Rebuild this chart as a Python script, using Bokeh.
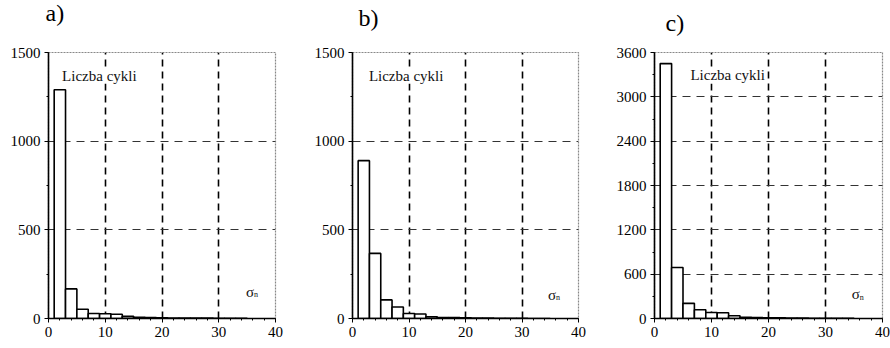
from bokeh.plotting import figure
from bokeh.models import Range1d, SingleIntervalTicker, Label
from bokeh.layouts import row, column
from bokeh.embed import file_html
from bokeh.resources import INLINE

# ---- data ----
bin_left = [1, 3, 5, 7, 9, 11, 13, 15, 17, 19, 21, 23, 25, 27, 29, 31, 33]
bin_width = 2
counts_a = [1290, 167, 52, 28, 27, 24, 12, 7, 5, 4, 3, 3, 2, 2, 1, 1, 1]
counts_b = [890, 367, 105, 65, 28, 25, 10, 5, 5, 4, 2, 2, 1, 1, 1, 0, 0]
counts_c = [3450, 690, 205, 118, 82, 78, 37, 16, 12, 10, 8, 6, 5, 4, 3, 2, 2]
panel_titles = ["a)", "b)", "c)"]
y_max = [1500, 1500, 3600]
y_step = [500, 500, 600]
x_max = 40
x_step = 10
y_label_text = "Liczba cykli"

FONT = "Liberation Serif"
HEAD_H = 40


def make_header(title, width, tx, ty):
    h = figure(width=width, height=HEAD_H, x_range=Range1d(0, width),
               y_range=Range1d(0, HEAD_H), output_backend="svg",
               toolbar_location=None, min_border=0)
    h.axis.visible = False
    h.grid.visible = False
    h.outline_line_color = None
    h.add_layout(Label(x=tx, y=ty, text=title, text_font=FONT,
                       text_font_size="24px", text_baseline="middle",
                       text_color="black"))
    return h


def make_panel(counts, ymax, ystep, width, bl, br, bt, bb, lab_xy, sig_xy):
    p = figure(width=width, height=303, x_range=Range1d(0, x_max),
               y_range=Range1d(0, ymax), output_backend="svg",
               toolbar_location=None, min_border_left=bl, min_border_right=br,
               min_border_top=bt, min_border_bottom=bb)

    lefts = bin_left
    rights = [l + bin_width for l in bin_left]
    p.quad(left=lefts, right=rights, bottom=0, top=counts,
           fill_color="white", line_color="black", line_width=1.6)

    p.xaxis.ticker = SingleIntervalTicker(interval=x_step, num_minor_ticks=5)
    p.yaxis.ticker = SingleIntervalTicker(interval=ystep, num_minor_ticks=2)
    for ax in (p.xaxis[0], p.yaxis[0]):
        ax.axis_line_color = "black"
        ax.axis_line_width = 1.6
        ax.major_tick_line_color = "black"
        ax.minor_tick_line_color = "black"
        ax.major_tick_in = 0
        ax.major_tick_out = 4
        ax.minor_tick_in = 0
        ax.minor_tick_out = 2
        ax.major_label_text_font = FONT
        ax.major_label_text_font_size = "15px"
        ax.major_label_text_color = "black"
        ax.major_label_standoff = 4

    p.xgrid.grid_line_color = "black"
    p.xgrid.grid_line_dash = "7 5"
    p.xgrid.grid_line_width = 1.6
    p.ygrid.grid_line_color = "#333333"
    p.ygrid.grid_line_dash = "8 6"
    p.ygrid.grid_line_width = 1

    p.outline_line_color = "#888888"
    p.outline_line_width = 1.2
    p.outline_line_dash = "2 1"
    p.background_fill_color = "white"
    p.border_fill_color = "white"

    p.add_layout(Label(x=lab_xy[0], y=lab_xy[1], text=y_label_text,
                       text_font=FONT, text_font_size="15px",
                       text_baseline="middle", text_color="#111111",
                       background_fill_color="white", level="overlay"))
    p.add_layout(Label(x=sig_xy[0], y=sig_xy[1], text="σ",
                       text_font=FONT, text_font_size="15px",
                       text_baseline="middle", text_color="#111111"))
    p.add_layout(Label(x=sig_xy[0], y=sig_xy[1], text="n",
                       x_offset=8, y_offset=-3,
                       text_font=FONT, text_font_size="8px",
                       text_baseline="middle", text_color="#111111"))
    return p


ha = make_header(panel_titles[0], 305, 45, 28)
hb = make_header(panel_titles[1], 305, 53, 23)
hc = make_header(panel_titles[2], 280, 55, 18)

pa = make_panel(counts_a, y_max[0], y_step[0], 305,
                48, 30, 7, 24, (2.4, 1370), (34.8, 150))
pb = make_panel(counts_b, y_max[1], y_step[1], 305,
                47, 32, 10, 25, (2.9, 1370), (34.6, 135))
pc = make_panel(counts_c, y_max[2], y_step[2], 280,
                44, 8, 12, 24, (6.3, 3290), (34.6, 330))

layout = column(row(ha, hb, hc), row(pa, pb, pc))
open("out.html", "w").write(file_html(layout, INLINE))
